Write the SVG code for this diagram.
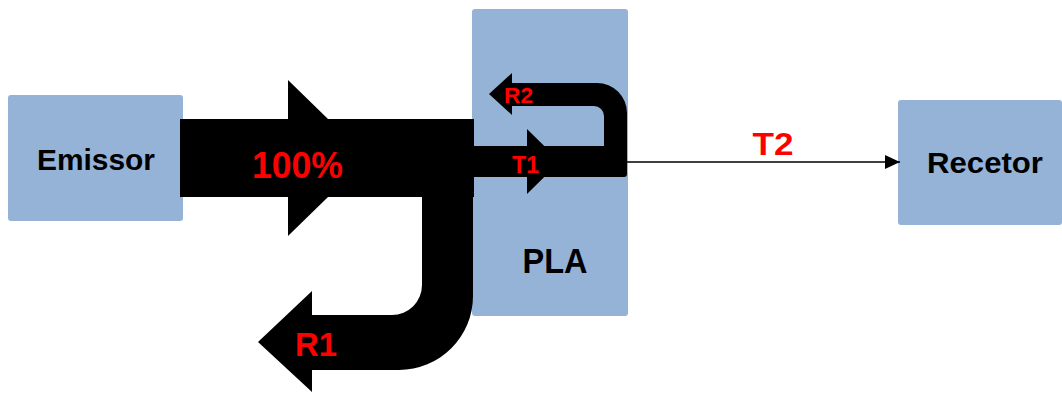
<svg xmlns="http://www.w3.org/2000/svg" width="1062" height="394" viewBox="0 0 1062 394">
  <style>
    .box { fill: #95B3D7; }
    .flow { fill: #000000; }
    .name { font-family: "Liberation Sans", Arial, sans-serif; font-weight: bold; fill: #000000; text-anchor: middle; }
    .pct { font-family: "Liberation Sans", Arial, sans-serif; font-weight: bold; fill: #FF0000; text-anchor: middle; }
  </style>
  <defs>
    <marker id="arrow" markerUnits="userSpaceOnUse" markerWidth="16" markerHeight="16" viewBox="0 0 16 16" refX="15" refY="8" orient="auto">
      <path d="M0,1 L15,8 L0,15 Z" fill="#000000"/>
    </marker>
  </defs>
  <rect width="1062" height="394" fill="#FFFFFF"/>

  <!-- source block -->
  <g id="emissor">
    <rect class="box" x="8" y="95" width="175" height="126" rx="3"/>
    <text class="name" x="96" y="170" font-size="30" textLength="118" lengthAdjust="spacingAndGlyphs">Emissor</text>
  </g>

  <!-- material sample -->
  <g id="pla">
    <rect class="box" x="472" y="9" width="156" height="307" rx="3"/>
    <text class="name" x="555" y="273" font-size="35" textLength="65" lengthAdjust="spacingAndGlyphs">PLA</text>
  </g>

  <!-- receiving block -->
  <g id="recetor">
    <rect class="box" x="898" y="100" width="164" height="125" rx="3"/>
    <text class="name" x="985" y="173" font-size="30" textLength="116" lengthAdjust="spacingAndGlyphs">Recetor</text>
  </g>

  <g id="connectors">
    <!-- incident beam -->
    <g id="incident">
      <path class="flow" d="M180,119 L474,119 L474,197 L180,197 Z"/>
      <path class="flow" d="M288,80 L368,158 L288,236 Z"/>
    </g>
    <!-- reflected beam R1 -->
    <g id="reflect-r1">
      <path class="flow" d="M422,150 L473,150 L473,296 A74,74 0 0 1 399,370 L312,370 L312,392 L258,342 L312,291 L312,315 L392,315 A30,30 0 0 0 422,285 Z"/>
    </g>
    <!-- transmitted T1 and internal reflection R2 -->
    <g id="internal">
      <path class="flow" d="M474,146 L604,146 L604,116 A10,10 0 0 0 594,106 L512,106 L512,115 L489,94 L512,73 L512,83 L597,83 A30,30 0 0 1 627,113 L627,174 A3,3 0 0 1 624,177 L474,177 Z"/>
      <path class="flow" d="M527,129 L560,161.5 L527,194 Z"/>
    </g>
    <!-- transmitted T2 -->
    <line id="transmit-t2" x1="627" y1="162" x2="900" y2="162" stroke="#000000" stroke-width="1.5" marker-end="url(#arrow)"/>

    <text class="pct" x="297.5" y="178" font-size="36" textLength="91" lengthAdjust="spacingAndGlyphs">100%</text>
    <text class="pct" x="316" y="356" font-size="33" textLength="42" lengthAdjust="spacingAndGlyphs">R1</text>
    <text class="pct" x="518.5" y="103" font-size="22" textLength="29" lengthAdjust="spacingAndGlyphs">R2</text>
    <text class="pct" x="525.5" y="173" font-size="23" textLength="27" lengthAdjust="spacingAndGlyphs">T1</text>
    <text class="pct" x="773" y="155" font-size="32" textLength="41" lengthAdjust="spacingAndGlyphs">T2</text>
  </g>
</svg>
